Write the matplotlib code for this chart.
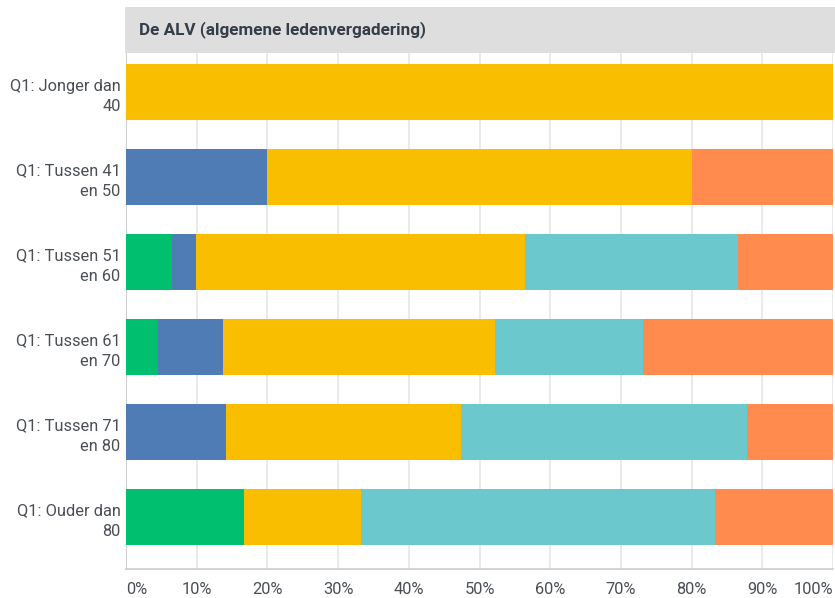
import matplotlib.pyplot as plt
import numpy as np

plt.rcParams['font.family'] = ['Roboto', 'DejaVu Sans']

# antwoordcategorieën per leeftijdsgroep (percentages)
groepen = ['Q1: Jonger dan\n40', 'Q1: Tussen 41\nen 50', 'Q1: Tussen 51\nen 60',
           'Q1: Tussen 61\nen 70', 'Q1: Tussen 71\nen 80', 'Q1: Ouder dan\n80']
groen = [0, 0, 6.5, 4.5, 0, 16.7]
blauw = [0, 20.0, 3.4, 9.2, 14.2, 0]
geel = [100.0, 60.0, 46.5, 38.5, 33.2, 16.6]
turkoois = [0, 0, 30.1, 20.9, 40.5, 50.0]
oranje = [0, 20.0, 13.5, 26.9, 12.1, 16.7]

series = [groen, blauw, geel, turkoois, oranje]
kleuren = ['#00BF6F', '#507CB6', '#F9BE00', '#6BC8CD', '#FF8B4F']

tick_pos = list(range(0, 101, 10))
tick_labels = [f'{t}%' for t in tick_pos]

fig = plt.figure(figsize=(8.35, 5.98), dpi=100)
W, H = 835, 598
ax = fig.add_axes([126 / W, 1 - 569 / H, (833 - 126) / W, (569 - 53) / H])

y = np.arange(len(groepen))
left = np.zeros(len(groepen))
for vals, kleur in zip(series, kleuren):
    ax.barh(y, vals, left=left, height=0.67, color=kleur, zorder=3)
    left += np.array(vals)

ax.set_xlim(0, 100)
ax.set_ylim(5.612, -0.459)
ax.set_yticks(y)
ax.set_yticklabels(groepen, fontsize=11.8, color='#4a4f55', linespacing=1.45)
ax.set_xticks(tick_pos)
ax.set_xticklabels(tick_labels, fontsize=11.8, color='#4a4f55')
lbls = ax.get_xticklabels()
lbls[0].set_ha('left')
lbls[-1].set_ha('right')
ax.tick_params(axis='both', length=0)
ax.tick_params(axis='x', pad=9)
ax.tick_params(axis='y', pad=4)

ax.grid(axis='x', color='#e6e6e6', linewidth=1.2, zorder=0)
for s in ['top', 'right']:
    ax.spines[s].set_visible(False)
ax.spines['left'].set_color('#d0d0d0')
ax.spines['bottom'].set_color('#cccccc')
ax.spines['bottom'].set_linewidth(1.2)

# grijze kopbalk met titel
kop = fig.add_axes([125 / W, 1 - 53 / H, (835 - 125) / W, (53 - 7) / H])
kop.set_facecolor('#dedede')
kop.set_xticks([])
kop.set_yticks([])
for s in kop.spines.values():
    s.set_visible(False)
kop.text(14 / (835 - 125), 0.5, 'De ALV (algemene ledenvergadering)', fontsize=12.3,
         fontweight='bold', color='#333e48', va='center', ha='left',
         transform=kop.transAxes)

fig.savefig('out.png', dpi=100)
